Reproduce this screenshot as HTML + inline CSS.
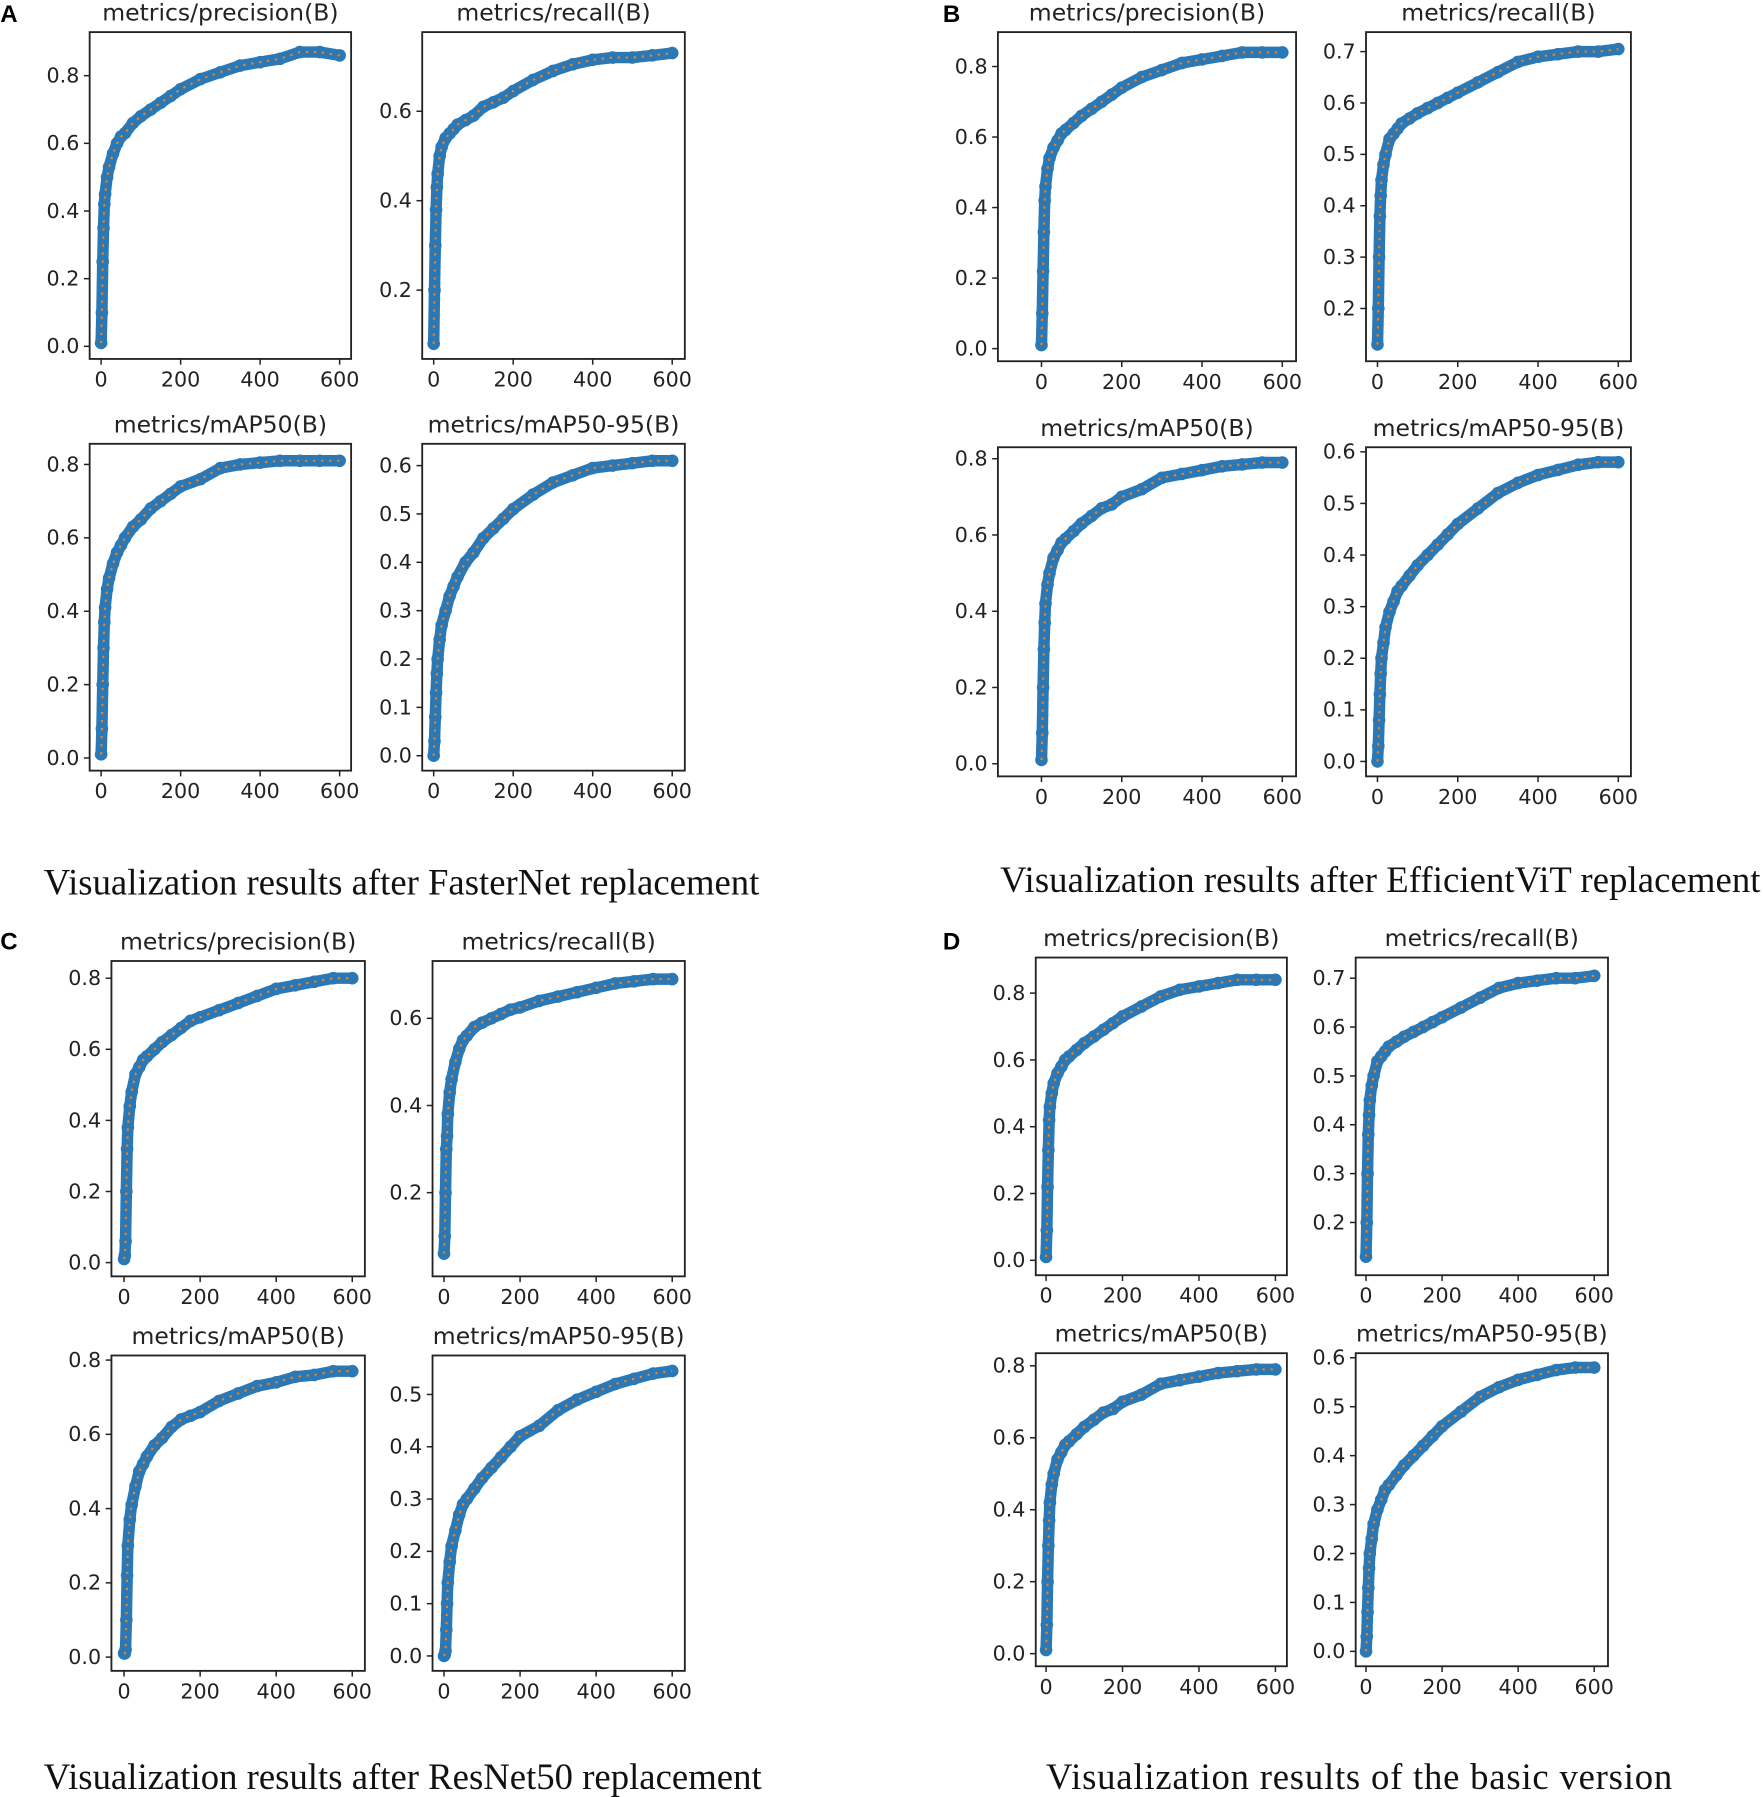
<!DOCTYPE html>
<html><head><meta charset="utf-8">
<style>
html,body{margin:0;padding:0;background:#fff;}
svg{display:block;}
.tick{font-family:"DejaVu Sans","Liberation Sans",sans-serif;font-size:18px;fill:#222;}
.ttl{font-family:"DejaVu Sans","Liberation Sans",sans-serif;font-size:20.5px;fill:#222;}
.cap{font-family:"Liberation Serif",serif;font-size:32px;fill:#111;}
.lbl{font-family:"Liberation Sans",sans-serif;font-size:21px;font-weight:bold;fill:#000;}
</style></head>
<body>
<svg id="fig" width="1763" height="1797" viewBox="0 0 1537 1567" xmlns="http://www.w3.org/2000/svg">
<text class="lbl" x="0" y="19">A</text>
<text class="lbl" x="822" y="19">B</text>
<text class="lbl" x="0" y="828">C</text>
<text class="lbl" x="822" y="828">D</text>
<text class="cap" x="38" y="780" textLength="624">Visualization results after FasterNet replacement</text>
<text class="cap" x="872" y="778" textLength="663">Visualization results after EfficientViT replacement</text>
<text class="cap" x="38" y="1560" textLength="626">Visualization results after ResNet50 replacement</text>
<text class="cap" x="912" y="1560" textLength="546">Visualization results of the basic version</text>
</svg>
<script>
const epochs = [0,2,4,6,8,10,15,20,30,40,50,60,80,100,125,150,175,200,250,300,350,400,450,500,550,600];
const xTicks = [0,200,400,600];

const aPrecision = [0.01,0.1,0.25,0.35,0.42,0.45,0.5,0.53,0.57,0.6,0.62,0.63,0.66,0.68,0.7,0.72,0.74,0.76,0.79,0.81,0.83,0.84,0.85,0.87,0.87,0.86];
const aRecall = [0.08,0.2,0.3,0.38,0.43,0.46,0.5,0.52,0.54,0.55,0.56,0.57,0.58,0.59,0.61,0.62,0.63,0.645,0.67,0.69,0.705,0.715,0.72,0.72,0.725,0.73];
const aMap50 = [0.01,0.08,0.2,0.3,0.37,0.41,0.46,0.49,0.53,0.56,0.58,0.6,0.63,0.65,0.68,0.7,0.72,0.74,0.76,0.79,0.8,0.805,0.81,0.81,0.81,0.81];
const aMap5095 = [0,0.03,0.08,0.13,0.17,0.2,0.24,0.27,0.3,0.33,0.35,0.37,0.4,0.42,0.45,0.47,0.49,0.51,0.54,0.565,0.58,0.595,0.6,0.605,0.61,0.61];

const bPrecision = [0.01,0.1,0.22,0.33,0.42,0.46,0.51,0.54,0.57,0.59,0.61,0.62,0.64,0.66,0.68,0.7,0.72,0.74,0.77,0.79,0.81,0.82,0.83,0.84,0.84,0.84];
const bRecall = [0.13,0.2,0.3,0.38,0.42,0.45,0.48,0.5,0.53,0.54,0.55,0.56,0.57,0.58,0.59,0.6,0.61,0.62,0.64,0.66,0.68,0.69,0.695,0.7,0.7,0.705];
const bMap50 = [0.01,0.08,0.2,0.3,0.37,0.42,0.47,0.5,0.54,0.56,0.58,0.59,0.61,0.63,0.65,0.67,0.68,0.7,0.72,0.75,0.76,0.77,0.78,0.785,0.79,0.79];
const bMap5095 = [0,0.03,0.08,0.13,0.17,0.2,0.23,0.26,0.29,0.31,0.33,0.34,0.36,0.38,0.4,0.42,0.44,0.46,0.49,0.52,0.54,0.555,0.565,0.575,0.58,0.58];

const cPrecision = [0.01,0.02,0.06,0.2,0.32,0.38,0.44,0.48,0.53,0.55,0.57,0.58,0.6,0.62,0.64,0.66,0.68,0.69,0.71,0.73,0.75,0.77,0.78,0.79,0.8,0.8];
const cRecall = [0.06,0.1,0.2,0.3,0.33,0.38,0.43,0.46,0.5,0.53,0.55,0.56,0.58,0.59,0.6,0.61,0.62,0.625,0.64,0.65,0.66,0.67,0.68,0.685,0.69,0.69];
const cMap50 = [0.01,0.01,0.02,0.1,0.22,0.3,0.37,0.41,0.46,0.5,0.52,0.54,0.57,0.59,0.62,0.64,0.65,0.66,0.69,0.71,0.73,0.74,0.755,0.76,0.77,0.77];
const cMap5095 = [0,0.003,0.01,0.05,0.1,0.14,0.18,0.21,0.24,0.27,0.29,0.3,0.32,0.34,0.36,0.38,0.4,0.42,0.44,0.47,0.49,0.505,0.52,0.53,0.54,0.545];

const dPrecision = [0.01,0.09,0.22,0.33,0.42,0.46,0.5,0.53,0.56,0.58,0.6,0.61,0.63,0.65,0.67,0.69,0.71,0.73,0.76,0.79,0.81,0.82,0.83,0.84,0.84,0.84];
const dRecall = [0.13,0.2,0.3,0.38,0.42,0.45,0.48,0.5,0.53,0.54,0.55,0.56,0.57,0.58,0.59,0.6,0.61,0.62,0.64,0.66,0.68,0.69,0.695,0.7,0.7,0.705];
const dMap50 = [0.01,0.08,0.2,0.3,0.37,0.42,0.47,0.5,0.54,0.56,0.58,0.59,0.61,0.63,0.65,0.67,0.68,0.7,0.72,0.75,0.76,0.77,0.78,0.785,0.79,0.79];
const dMap5095 = [0,0.03,0.08,0.13,0.17,0.2,0.23,0.26,0.29,0.31,0.33,0.34,0.36,0.38,0.4,0.42,0.44,0.46,0.49,0.52,0.54,0.555,0.565,0.575,0.58,0.58];

const ticksP = [0,0.2,0.4,0.6,0.8];
const ticksRA = [0.2,0.4,0.6];
const ticksRB = [0.2,0.3,0.4,0.5,0.6,0.7];
const ticksM = [0,0.1,0.2,0.3,0.4,0.5,0.6];
const ticksMC = [0,0.1,0.2,0.3,0.4,0.5];

const NS = "http://www.w3.org/2000/svg";
const fig = document.getElementById('fig');
function mk(tag, attrs, parent){const e=document.createElementNS(NS,tag);for(const k in attrs)e.setAttribute(k,attrs[k]);(parent||fig).appendChild(e);return e;}

const panels = [
 {id:'a-precision',t:'metrics/precision(B)',box:[78,306,28,313],xp:[88,296],yc:[0,302,0.8,66],yt:ticksP,d:aPrecision},
 {id:'a-recall',t:'metrics/recall(B)',box:[368,597,28,313],xp:[378,586],yc:[0.2,253,0.6,97],yt:ticksRA,d:aRecall},
 {id:'a-map50',t:'metrics/mAP50(B)',box:[78,306,387,672],xp:[88,296],yc:[0,661,0.8,405],yt:ticksP,d:aMap50},
 {id:'a-map50-95',t:'metrics/mAP50-95(B)',box:[368,597,387,672],xp:[378,586],yc:[0,659,0.6,406],yt:ticksM,d:aMap5095},
 {id:'b-precision',t:'metrics/precision(B)',box:[870,1130,28,315],xp:[908,1118],yc:[0,304,0.8,58],yt:ticksP,d:bPrecision},
 {id:'b-recall',t:'metrics/recall(B)',box:[1191,1422,28,315],xp:[1201,1411],yc:[0.2,269,0.7,45],yt:ticksRB,d:bRecall},
 {id:'b-map50',t:'metrics/mAP50(B)',box:[870,1130,390,677],xp:[908,1118],yc:[0,666,0.8,400],yt:ticksP,d:bMap50},
 {id:'b-map50-95',t:'metrics/mAP50-95(B)',box:[1191,1422,390,677],xp:[1201,1411],yc:[0,664,0.6,394],yt:ticksM,d:bMap5095},
 {id:'c-precision',t:'metrics/precision(B)',box:[97,318,838,1113],xp:[108,307],yc:[0,1101,0.8,853],yt:ticksP,d:cPrecision},
 {id:'c-recall',t:'metrics/recall(B)',box:[377,597,838,1113],xp:[387,586],yc:[0.2,1040,0.6,888],yt:ticksRA,d:cRecall},
 {id:'c-map50',t:'metrics/mAP50(B)',box:[97,318,1182,1457],xp:[108,307],yc:[0,1445,0.8,1186],yt:ticksP,d:cMap50},
 {id:'c-map50-95',t:'metrics/mAP50-95(B)',box:[377,597,1182,1457],xp:[387,586],yc:[0,1444,0.5,1216],yt:ticksMC,d:cMap5095},
 {id:'d-precision',t:'metrics/precision(B)',box:[903,1122,835,1112],xp:[912,1112],yc:[0,1099,0.8,866],yt:ticksP,d:dPrecision},
 {id:'d-recall',t:'metrics/recall(B)',box:[1182,1402,835,1112],xp:[1191,1390],yc:[0.2,1066,0.7,853],yt:ticksRB,d:dRecall},
 {id:'d-map50',t:'metrics/mAP50(B)',box:[903,1122,1180,1453],xp:[912,1112],yc:[0,1442,0.8,1191],yt:ticksP,d:dMap50},
 {id:'d-map50-95',t:'metrics/mAP50-95(B)',box:[1182,1402,1180,1453],xp:[1191,1390],yc:[0,1440,0.6,1184],yt:ticksM,d:dMap5095}
];

panels.forEach(p=>{
  const g = mk('g',{});
  
  
  const [x0,x1,y0,y1]=p.box;
  const xs = v => p.xp[0] + (v/600)*(p.xp[1]-p.xp[0]);
  const ys = v => p.yc[1] + (v-p.yc[0])*(p.yc[3]-p.yc[1])/(p.yc[2]-p.yc[0]);
  const tt = mk('text',{class:'ttl',x:(x0+x1)/2,y:y0-10,'text-anchor':'middle'},g);
  tt.textContent=p.t;
  
  
  const pts = epochs.map((e,i)=>xs(e).toFixed(1)+','+ys(p.d[i]).toFixed(1)).join(' ');
  const band = mk('polyline',{points:pts,fill:'none',stroke:'#2a78b6','stroke-width':10,'stroke-linejoin':'round','stroke-linecap':'round'},g);
  
  
  epochs.forEach((e,i)=>{
    const c = mk('circle',{cx:xs(e),cy:ys(p.d[i]),r:5.5,fill:'#2a78b6'},g);
    
    
  });
  const sm = mk('polyline',{points:pts,fill:'none',stroke:'#ff7f0e','stroke-width':1.8,'stroke-dasharray':'2 5'},g);
  
  
  const fr = mk('rect',{x:x0,y:y0,width:x1-x0,height:y1-y0,fill:'none',stroke:'#222','stroke-width':1.6},g);
  
  
  xTicks.forEach(v=>{
    mk('line',{x1:xs(v),x2:xs(v),y1:y1,y2:y1+5,stroke:'#222','stroke-width':1.3},g);
    const t = mk('text',{class:'tick',x:xs(v),y:y1+24,'text-anchor':'middle'},g);
    t.textContent=String(v);
    
    
  });
  p.yt.forEach(v=>{
    mk('line',{x1:x0-5,x2:x0,y1:ys(v),y2:ys(v),stroke:'#222','stroke-width':1.3},g);
    const t = mk('text',{class:'tick',x:x0-9,y:ys(v)+6,'text-anchor':'end'},g);
    t.textContent=v.toFixed(1);
    
    
  });
});
</script>
</body></html>
